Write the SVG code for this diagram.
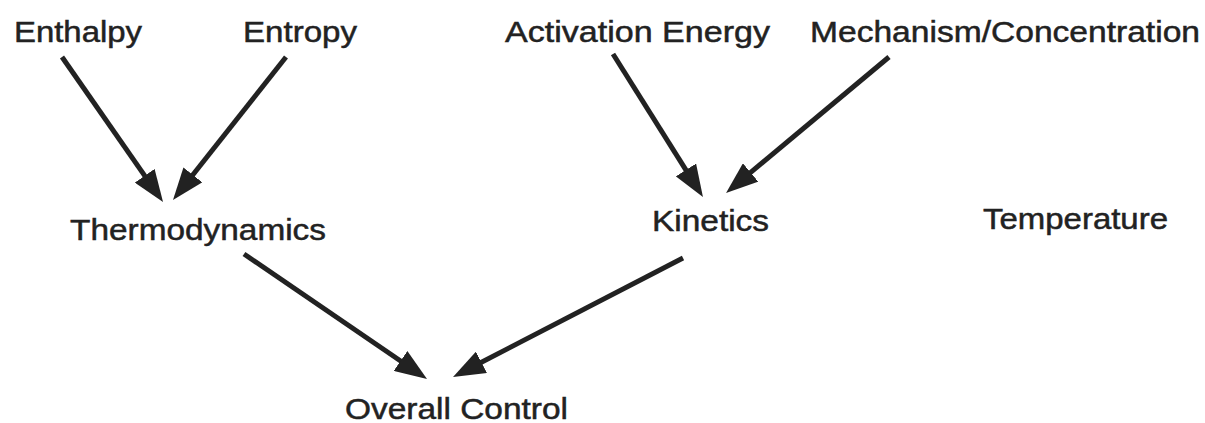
<svg xmlns="http://www.w3.org/2000/svg" width="1205" height="423" viewBox="0 0 1205 423">
<style>
.lbl{font-family:"Liberation Sans",Arial,sans-serif;font-size:30px;fill:#222;stroke:#222;stroke-width:0.5;}
.edge{stroke:#222;stroke-width:5;fill:none;marker-end:url(#ah);}
</style>
<defs>
<marker id="ah" viewBox="0 0 32 24" markerWidth="32" markerHeight="24" refX="12" refY="12" orient="auto" markerUnits="userSpaceOnUse">
<path d="M0,0 L32,12 L0,24 Z" fill="#222"/>
</marker>
</defs>
<rect width="1205" height="423" fill="#fff"/>
<g id="connectors">
<line class="edge" x1="62" y1="57" x2="151.6" y2="185.6"/>
<line class="edge" x1="286" y1="57" x2="185.4" y2="184.3"/>
<line class="edge" x1="613" y1="54" x2="692.3" y2="180.1"/>
<line class="edge" x1="889" y1="57" x2="741.4" y2="180.2"/>
<line class="edge" x1="244" y1="254" x2="410.5" y2="367.7"/>
<line class="edge" x1="683" y1="258" x2="470.8" y2="367.8"/>
</g>
<g id="enthalpy"><text class="lbl" x="14" y="42" textLength="128" lengthAdjust="spacingAndGlyphs">Enthalpy</text></g>
<g id="entropy"><text class="lbl" x="243" y="42" textLength="114" lengthAdjust="spacingAndGlyphs">Entropy</text></g>
<g id="activation"><text class="lbl" x="505" y="42" textLength="265" lengthAdjust="spacingAndGlyphs">Activation Energy</text></g>
<g id="mechanism"><text class="lbl" x="810" y="42" textLength="390" lengthAdjust="spacingAndGlyphs">Mechanism/Concentration</text></g>
<g id="thermodynamics"><text class="lbl" x="70" y="240" textLength="256" lengthAdjust="spacingAndGlyphs">Thermodynamics</text></g>
<g id="kinetics"><text class="lbl" x="652" y="231" textLength="117" lengthAdjust="spacingAndGlyphs">Kinetics</text></g>
<g id="temperature"><text class="lbl" x="983" y="229" textLength="185" lengthAdjust="spacingAndGlyphs">Temperature</text></g>
<g id="overall"><text class="lbl" x="345" y="419" textLength="223" lengthAdjust="spacingAndGlyphs">Overall Control</text></g>
</svg>
